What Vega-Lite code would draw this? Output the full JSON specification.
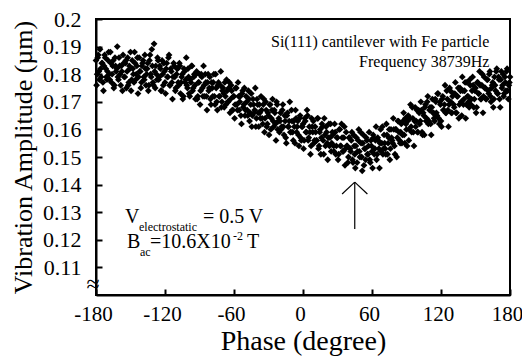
{
"$schema": "https://vega.github.io/schema/vega-lite/v6.json",
"width": 414, "height": 276,
"autosize": {"type": "none"},
"padding": {"left": 96, "top": 19, "right": 12, "bottom": 61},
"background": "white",
"config": {"font": "Liberation Serif, Times New Roman, serif", "view": {"stroke": "black", "strokeWidth": 2},
 "axis": {"labelFont": "Liberation Serif, Times New Roman, serif", "titleFont": "Liberation Serif, Times New Roman, serif", "labelOverlap": false, "labelFlush": false, "grid": false},
 "text": {"font": "Liberation Serif, Times New Roman, serif"}},
"layer": [
{
"data": {"values": [
{"phase":-180,"amp":0.185},{"phase":-179,"amp":0.180},{"phase":-178,"amp":0.187},{"phase":-177,"amp":0.178},{"phase":-176,"amp":0.182},{"phase":-175,"amp":0.184},{"phase":-174,"amp":0.177},{"phase":-173,"amp":0.183},{"phase":-172,"amp":0.186},{"phase":-171,"amp":0.179},
{"phase":-170,"amp":0.181},{"phase":-169,"amp":0.188},{"phase":-168,"amp":0.178},{"phase":-167,"amp":0.184},{"phase":-166,"amp":0.180},{"phase":-165,"amp":0.185},{"phase":-164,"amp":0.176},{"phase":-163,"amp":0.183},{"phase":-162,"amp":0.182},{"phase":-161,"amp":0.179},
{"phase":-160,"amp":0.186},{"phase":-159,"amp":0.180},{"phase":-158,"amp":0.183},{"phase":-157,"amp":0.174},{"phase":-156,"amp":0.184},{"phase":-155,"amp":0.179},{"phase":-154,"amp":0.185},{"phase":-153,"amp":0.181},{"phase":-152,"amp":0.176},{"phase":-151,"amp":0.183},
{"phase":-150,"amp":0.188},{"phase":-149,"amp":0.178},{"phase":-148,"amp":0.182},{"phase":-147,"amp":0.177},{"phase":-146,"amp":0.184},{"phase":-145,"amp":0.180},{"phase":-144,"amp":0.186},{"phase":-143,"amp":0.179},{"phase":-142,"amp":0.181},{"phase":-141,"amp":0.175},
{"phase":-140,"amp":0.183},{"phase":-139,"amp":0.185},{"phase":-138,"amp":0.178},{"phase":-137,"amp":0.182},{"phase":-136,"amp":0.180},{"phase":-135,"amp":0.184},{"phase":-134,"amp":0.176},{"phase":-133,"amp":0.187},{"phase":-132,"amp":0.179},{"phase":-131,"amp":0.183},
{"phase":-130,"amp":0.176},{"phase":-129,"amp":0.181},{"phase":-128,"amp":0.183},{"phase":-127,"amp":0.178},{"phase":-126,"amp":0.185},{"phase":-125,"amp":0.179},{"phase":-124,"amp":0.182},{"phase":-123,"amp":0.174},{"phase":-122,"amp":0.180},{"phase":-121,"amp":0.184},
{"phase":-120,"amp":0.177},{"phase":-119,"amp":0.182},{"phase":-118,"amp":0.179},{"phase":-117,"amp":0.186},{"phase":-116,"amp":0.176},{"phase":-115,"amp":0.182},{"phase":-114,"amp":0.177},{"phase":-113,"amp":0.179},{"phase":-112,"amp":0.183},{"phase":-111,"amp":0.174},
{"phase":-110,"amp":0.180},{"phase":-109,"amp":0.182},{"phase":-108,"amp":0.176},{"phase":-107,"amp":0.183},{"phase":-106,"amp":0.177},{"phase":-105,"amp":0.180},{"phase":-104,"amp":0.172},{"phase":-103,"amp":0.181},{"phase":-102,"amp":0.178},{"phase":-101,"amp":0.176},
{"phase":-100,"amp":0.182},{"phase":-99,"amp":0.173},{"phase":-98,"amp":0.178},{"phase":-97,"amp":0.183},{"phase":-96,"amp":0.174},{"phase":-95,"amp":0.179},{"phase":-94,"amp":0.176},{"phase":-93,"amp":0.180},{"phase":-92,"amp":0.171},{"phase":-91,"amp":0.177},
{"phase":-90,"amp":0.180},{"phase":-89,"amp":0.174},{"phase":-88,"amp":0.179},{"phase":-87,"amp":0.172},{"phase":-86,"amp":0.176},{"phase":-85,"amp":0.180},{"phase":-84,"amp":0.172},{"phase":-83,"amp":0.177},{"phase":-82,"amp":0.174},{"phase":-81,"amp":0.179},
{"phase":-80,"amp":0.169},{"phase":-79,"amp":0.175},{"phase":-78,"amp":0.177},{"phase":-77,"amp":0.172},{"phase":-76,"amp":0.180},{"phase":-75,"amp":0.170},{"phase":-74,"amp":0.176},{"phase":-73,"amp":0.172},{"phase":-72,"amp":0.176},{"phase":-71,"amp":0.168},
{"phase":-70,"amp":0.174},{"phase":-69,"amp":0.173},{"phase":-68,"amp":0.177},{"phase":-67,"amp":0.169},{"phase":-66,"amp":0.174},{"phase":-65,"amp":0.170},{"phase":-64,"amp":0.177},{"phase":-63,"amp":0.171},{"phase":-62,"amp":0.174},{"phase":-61,"amp":0.167},
{"phase":-60,"amp":0.172},{"phase":-59,"amp":0.169},{"phase":-58,"amp":0.175},{"phase":-57,"amp":0.167},{"phase":-56,"amp":0.172},{"phase":-55,"amp":0.170},{"phase":-54,"amp":0.165},{"phase":-53,"amp":0.173},{"phase":-52,"amp":0.168},{"phase":-51,"amp":0.175},
{"phase":-50,"amp":0.167},{"phase":-49,"amp":0.170},{"phase":-48,"amp":0.165},{"phase":-47,"amp":0.171},{"phase":-46,"amp":0.166},{"phase":-45,"amp":0.173},{"phase":-44,"amp":0.165},{"phase":-43,"amp":0.169},{"phase":-42,"amp":0.167},{"phase":-41,"amp":0.161},
{"phase":-40,"amp":0.171},{"phase":-39,"amp":0.166},{"phase":-38,"amp":0.169},{"phase":-37,"amp":0.164},{"phase":-36,"amp":0.167},{"phase":-35,"amp":0.162},{"phase":-34,"amp":0.171},{"phase":-33,"amp":0.164},{"phase":-32,"amp":0.167},{"phase":-31,"amp":0.162},
{"phase":-30,"amp":0.165},{"phase":-29,"amp":0.169},{"phase":-28,"amp":0.160},{"phase":-27,"amp":0.167},{"phase":-26,"amp":0.163},{"phase":-25,"amp":0.167},{"phase":-24,"amp":0.162},{"phase":-23,"amp":0.170},{"phase":-22,"amp":0.160},{"phase":-21,"amp":0.164},
{"phase":-20,"amp":0.163},{"phase":-19,"amp":0.160},{"phase":-18,"amp":0.167},{"phase":-17,"amp":0.161},{"phase":-16,"amp":0.165},{"phase":-15,"amp":0.157},{"phase":-14,"amp":0.165},{"phase":-13,"amp":0.161},{"phase":-12,"amp":0.163},{"phase":-11,"amp":0.159},
{"phase":-10,"amp":0.167},{"phase":-9,"amp":0.159},{"phase":-8,"amp":0.163},{"phase":-7,"amp":0.155},{"phase":-6,"amp":0.164},{"phase":-5,"amp":0.161},{"phase":-4,"amp":0.158},{"phase":-3,"amp":0.164},{"phase":-2,"amp":0.157},{"phase":-1,"amp":0.161},
{"phase":0,"amp":0.162},{"phase":1,"amp":0.156},{"phase":2,"amp":0.163},{"phase":3,"amp":0.159},{"phase":4,"amp":0.165},{"phase":5,"amp":0.157},{"phase":6,"amp":0.159},{"phase":7,"amp":0.154},{"phase":8,"amp":0.161},{"phase":9,"amp":0.163},
{"phase":10,"amp":0.156},{"phase":11,"amp":0.159},{"phase":12,"amp":0.156},{"phase":13,"amp":0.164},{"phase":14,"amp":0.154},{"phase":15,"amp":0.160},{"phase":16,"amp":0.157},{"phase":17,"amp":0.161},{"phase":18,"amp":0.151},{"phase":19,"amp":0.158},
{"phase":20,"amp":0.161},{"phase":21,"amp":0.155},{"phase":22,"amp":0.157},{"phase":23,"amp":0.154},{"phase":24,"amp":0.162},{"phase":25,"amp":0.155},{"phase":26,"amp":0.158},{"phase":27,"amp":0.152},{"phase":28,"amp":0.159},{"phase":29,"amp":0.154},
{"phase":30,"amp":0.157},{"phase":31,"amp":0.151},{"phase":32,"amp":0.160},{"phase":33,"amp":0.154},{"phase":34,"amp":0.157},{"phase":35,"amp":0.152},{"phase":36,"amp":0.161},{"phase":37,"amp":0.153},{"phase":38,"amp":0.154},{"phase":39,"amp":0.148},
{"phase":40,"amp":0.157},{"phase":41,"amp":0.153},{"phase":42,"amp":0.156},{"phase":43,"amp":0.149},{"phase":44,"amp":0.158},{"phase":45,"amp":0.151},{"phase":46,"amp":0.154},{"phase":47,"amp":0.148},{"phase":48,"amp":0.156},{"phase":49,"amp":0.152},
{"phase":50,"amp":0.159},{"phase":51,"amp":0.150},{"phase":52,"amp":0.155},{"phase":53,"amp":0.147},{"phase":54,"amp":0.153},{"phase":55,"amp":0.157},{"phase":56,"amp":0.151},{"phase":57,"amp":0.154},{"phase":58,"amp":0.149},{"phase":59,"amp":0.156},
{"phase":60,"amp":0.152},{"phase":61,"amp":0.158},{"phase":62,"amp":0.151},{"phase":63,"amp":0.156},{"phase":64,"amp":0.149},{"phase":65,"amp":0.157},{"phase":66,"amp":0.153},{"phase":67,"amp":0.155},{"phase":68,"amp":0.152},{"phase":69,"amp":0.161},
{"phase":70,"amp":0.153},{"phase":71,"amp":0.155},{"phase":72,"amp":0.151},{"phase":73,"amp":0.158},{"phase":74,"amp":0.155},{"phase":75,"amp":0.160},{"phase":76,"amp":0.153},{"phase":77,"amp":0.157},{"phase":78,"amp":0.155},{"phase":79,"amp":0.160},
{"phase":80,"amp":0.151},{"phase":81,"amp":0.160},{"phase":82,"amp":0.157},{"phase":83,"amp":0.163},{"phase":84,"amp":0.156},{"phase":85,"amp":0.159},{"phase":86,"amp":0.155},{"phase":87,"amp":0.163},{"phase":88,"amp":0.158},{"phase":89,"amp":0.164},
{"phase":90,"amp":0.160},{"phase":91,"amp":0.163},{"phase":92,"amp":0.156},{"phase":93,"amp":0.164},{"phase":94,"amp":0.161},{"phase":95,"amp":0.168},{"phase":96,"amp":0.159},{"phase":97,"amp":0.163},{"phase":98,"amp":0.161},{"phase":99,"amp":0.167},
{"phase":100,"amp":0.159},{"phase":101,"amp":0.166},{"phase":102,"amp":0.163},{"phase":103,"amp":0.167},{"phase":104,"amp":0.158},{"phase":105,"amp":0.165},{"phase":106,"amp":0.168},{"phase":107,"amp":0.163},{"phase":108,"amp":0.170},{"phase":109,"amp":0.162},
{"phase":110,"amp":0.167},{"phase":111,"amp":0.162},{"phase":112,"amp":0.168},{"phase":113,"amp":0.166},{"phase":114,"amp":0.164},{"phase":115,"amp":0.171},{"phase":116,"amp":0.166},{"phase":117,"amp":0.173},{"phase":118,"amp":0.164},{"phase":119,"amp":0.170},
{"phase":120,"amp":0.163},{"phase":121,"amp":0.171},{"phase":122,"amp":0.167},{"phase":123,"amp":0.169},{"phase":124,"amp":0.166},{"phase":125,"amp":0.174},{"phase":126,"amp":0.167},{"phase":127,"amp":0.169},{"phase":128,"amp":0.174},{"phase":129,"amp":0.166},
{"phase":130,"amp":0.172},{"phase":131,"amp":0.169},{"phase":132,"amp":0.173},{"phase":133,"amp":0.166},{"phase":134,"amp":0.172},{"phase":135,"amp":0.175},{"phase":136,"amp":0.169},{"phase":137,"amp":0.174},{"phase":138,"amp":0.165},{"phase":139,"amp":0.174},
{"phase":140,"amp":0.171},{"phase":141,"amp":0.177},{"phase":142,"amp":0.169},{"phase":143,"amp":0.172},{"phase":144,"amp":0.170},{"phase":145,"amp":0.178},{"phase":146,"amp":0.169},{"phase":147,"amp":0.174},{"phase":148,"amp":0.176},{"phase":149,"amp":0.171},
{"phase":150,"amp":0.175},{"phase":151,"amp":0.168},{"phase":152,"amp":0.177},{"phase":153,"amp":0.173},{"phase":154,"amp":0.176},{"phase":155,"amp":0.171},{"phase":156,"amp":0.180},{"phase":157,"amp":0.172},{"phase":158,"amp":0.175},{"phase":159,"amp":0.171},
{"phase":160,"amp":0.178},{"phase":161,"amp":0.174},{"phase":162,"amp":0.180},{"phase":163,"amp":0.172},{"phase":164,"amp":0.175},{"phase":165,"amp":0.177},{"phase":166,"amp":0.171},{"phase":167,"amp":0.176},{"phase":168,"amp":0.181},{"phase":169,"amp":0.173},
{"phase":170,"amp":0.179},{"phase":171,"amp":0.171},{"phase":172,"amp":0.178},{"phase":173,"amp":0.175},{"phase":174,"amp":0.180},{"phase":175,"amp":0.173},{"phase":176,"amp":0.177},{"phase":177,"amp":0.181},{"phase":178,"amp":0.174},{"phase":179,"amp":0.176},
{"phase":180,"amp":0.179},
{"phase":-179.5,"amp":0.176},{"phase":-178.5,"amp":0.186},{"phase":-177.5,"amp":0.181},{"phase":-176.5,"amp":0.189},{"phase":-175.5,"amp":0.179},{"phase":-174.5,"amp":0.184},{"phase":-173.5,"amp":0.174},{"phase":-172.5,"amp":0.187},{"phase":-171.5,"amp":0.182},{"phase":-170.5,"amp":0.178},
{"phase":-169.5,"amp":0.185},{"phase":-168.5,"amp":0.180},{"phase":-167.5,"amp":0.188},{"phase":-166.5,"amp":0.177},{"phase":-165.5,"amp":0.183},{"phase":-164.5,"amp":0.175},{"phase":-163.5,"amp":0.186},{"phase":-162.5,"amp":0.181},{"phase":-161.5,"amp":0.190},{"phase":-160.5,"amp":0.178},
{"phase":-159.5,"amp":0.183},{"phase":-158.5,"amp":0.176},{"phase":-157.5,"amp":0.181},{"phase":-156.5,"amp":0.187},{"phase":-155.5,"amp":0.179},{"phase":-154.5,"amp":0.184},{"phase":-153.5,"amp":0.175},{"phase":-152.5,"amp":0.186},{"phase":-151.5,"amp":0.177},{"phase":-150.5,"amp":0.182},
{"phase":-149.5,"amp":0.174},{"phase":-148.5,"amp":0.185},{"phase":-147.5,"amp":0.180},{"phase":-146.5,"amp":0.188},{"phase":-145.5,"amp":0.178},{"phase":-144.5,"amp":0.183},{"phase":-143.5,"amp":0.173},{"phase":-142.5,"amp":0.186},{"phase":-141.5,"amp":0.181},{"phase":-140.5,"amp":0.177},
{"phase":-139.5,"amp":0.184},{"phase":-138.5,"amp":0.179},{"phase":-137.5,"amp":0.187},{"phase":-136.5,"amp":0.176},{"phase":-135.5,"amp":0.182},{"phase":-134.5,"amp":0.174},{"phase":-133.5,"amp":0.185},{"phase":-132.5,"amp":0.180},{"phase":-131.5,"amp":0.189},{"phase":-130.5,"amp":0.177},
{"phase":-129.5,"amp":0.191},{"phase":-128.5,"amp":0.175},{"phase":-127.5,"amp":0.180},{"phase":-126.5,"amp":0.186},{"phase":-125.5,"amp":0.178},{"phase":-124.5,"amp":0.183},{"phase":-123.5,"amp":0.174},{"phase":-122.5,"amp":0.185},{"phase":-121.5,"amp":0.176},{"phase":-120.5,"amp":0.181},
{"phase":-119.5,"amp":0.173},{"phase":-118.5,"amp":0.184},{"phase":-117.5,"amp":0.179},{"phase":-116.5,"amp":0.187},{"phase":-115.5,"amp":0.176},{"phase":-114.5,"amp":0.181},{"phase":-113.5,"amp":0.171},{"phase":-112.5,"amp":0.184},{"phase":-111.5,"amp":0.179},{"phase":-110.5,"amp":0.175},
{"phase":-109.5,"amp":0.182},{"phase":-108.5,"amp":0.177},{"phase":-107.5,"amp":0.184},{"phase":-106.5,"amp":0.173},{"phase":-105.5,"amp":0.179},{"phase":-104.5,"amp":0.171},{"phase":-103.5,"amp":0.182},{"phase":-102.5,"amp":0.177},{"phase":-101.5,"amp":0.186},{"phase":-100.5,"amp":0.175},
{"phase":-99.5,"amp":0.179},{"phase":-98.5,"amp":0.172},{"phase":-97.5,"amp":0.177},{"phase":-96.5,"amp":0.183},{"phase":-95.5,"amp":0.175},{"phase":-94.5,"amp":0.180},{"phase":-93.5,"amp":0.171},{"phase":-92.5,"amp":0.181},{"phase":-91.5,"amp":0.172},{"phase":-90.5,"amp":0.177},
{"phase":-89.5,"amp":0.169},{"phase":-88.5,"amp":0.180},{"phase":-87.5,"amp":0.175},{"phase":-86.5,"amp":0.183},{"phase":-85.5,"amp":0.172},{"phase":-84.5,"amp":0.177},{"phase":-83.5,"amp":0.167},{"phase":-82.5,"amp":0.180},{"phase":-81.5,"amp":0.175},{"phase":-80.5,"amp":0.171},
{"phase":-79.5,"amp":0.177},{"phase":-78.5,"amp":0.172},{"phase":-77.5,"amp":0.180},{"phase":-76.5,"amp":0.169},{"phase":-75.5,"amp":0.175},{"phase":-74.5,"amp":0.167},{"phase":-73.5,"amp":0.177},{"phase":-72.5,"amp":0.172},{"phase":-71.5,"amp":0.181},{"phase":-70.5,"amp":0.170},
{"phase":-69.5,"amp":0.175},{"phase":-68.5,"amp":0.168},{"phase":-67.5,"amp":0.172},{"phase":-66.5,"amp":0.178},{"phase":-65.5,"amp":0.170},{"phase":-64.5,"amp":0.175},{"phase":-63.5,"amp":0.166},{"phase":-62.5,"amp":0.176},{"phase":-61.5,"amp":0.167},{"phase":-60.5,"amp":0.172},
{"phase":-59.5,"amp":0.164},{"phase":-58.5,"amp":0.175},{"phase":-57.5,"amp":0.169},{"phase":-56.5,"amp":0.177},{"phase":-55.5,"amp":0.167},{"phase":-54.5,"amp":0.172},{"phase":-53.5,"amp":0.162},{"phase":-52.5,"amp":0.174},{"phase":-51.5,"amp":0.169},{"phase":-50.5,"amp":0.165},
{"phase":-49.5,"amp":0.172},{"phase":-48.5,"amp":0.167},{"phase":-47.5,"amp":0.174},{"phase":-46.5,"amp":0.163},{"phase":-45.5,"amp":0.169},{"phase":-44.5,"amp":0.161},{"phase":-43.5,"amp":0.171},{"phase":-42.5,"amp":0.166},{"phase":-41.5,"amp":0.175},{"phase":-40.5,"amp":0.164},
{"phase":-39.5,"amp":0.169},{"phase":-38.5,"amp":0.161},{"phase":-37.5,"amp":0.166},{"phase":-36.5,"amp":0.172},{"phase":-35.5,"amp":0.164},{"phase":-34.5,"amp":0.169},{"phase":-33.5,"amp":0.159},{"phase":-32.5,"amp":0.170},{"phase":-31.5,"amp":0.161},{"phase":-30.5,"amp":0.166},
{"phase":-29.5,"amp":0.158},{"phase":-28.5,"amp":0.169},{"phase":-27.5,"amp":0.164},{"phase":-26.5,"amp":0.171},{"phase":-25.5,"amp":0.161},{"phase":-24.5,"amp":0.166},{"phase":-23.5,"amp":0.156},{"phase":-22.5,"amp":0.169},{"phase":-21.5,"amp":0.163},{"phase":-20.5,"amp":0.159},
{"phase":-19.5,"amp":0.166},{"phase":-18.5,"amp":0.161},{"phase":-17.5,"amp":0.169},{"phase":-16.5,"amp":0.158},{"phase":-15.5,"amp":0.163},{"phase":-14.5,"amp":0.155},{"phase":-13.5,"amp":0.166},{"phase":-12.5,"amp":0.161},{"phase":-11.5,"amp":0.170},{"phase":-10.5,"amp":0.159},
{"phase":-9.5,"amp":0.163},{"phase":-8.5,"amp":0.156},{"phase":-7.5,"amp":0.161},{"phase":-6.5,"amp":0.167},{"phase":-5.5,"amp":0.159},{"phase":-4.5,"amp":0.163},{"phase":-3.5,"amp":0.154},{"phase":-2.5,"amp":0.165},{"phase":-1.5,"amp":0.156},{"phase":-0.5,"amp":0.161},
{"phase":0.5,"amp":0.153},{"phase":1.5,"amp":0.164},{"phase":2.5,"amp":0.159},{"phase":3.5,"amp":0.167},{"phase":4.5,"amp":0.156},{"phase":5.5,"amp":0.161},{"phase":6.5,"amp":0.151},{"phase":7.5,"amp":0.164},{"phase":8.5,"amp":0.159},{"phase":9.5,"amp":0.155},
{"phase":10.5,"amp":0.161},{"phase":11.5,"amp":0.156},{"phase":12.5,"amp":0.164},{"phase":13.5,"amp":0.153},{"phase":14.5,"amp":0.159},{"phase":15.5,"amp":0.151},{"phase":16.5,"amp":0.162},{"phase":17.5,"amp":0.156},{"phase":18.5,"amp":0.164},{"phase":19.5,"amp":0.154},
{"phase":20.5,"amp":0.159},{"phase":21.5,"amp":0.149},{"phase":22.5,"amp":0.162},{"phase":23.5,"amp":0.157},{"phase":24.5,"amp":0.152},{"phase":25.5,"amp":0.159},{"phase":26.5,"amp":0.154},{"phase":27.5,"amp":0.162},{"phase":28.5,"amp":0.151},{"phase":29.5,"amp":0.157},
{"phase":30.5,"amp":0.149},{"phase":31.5,"amp":0.160},{"phase":32.5,"amp":0.154},{"phase":33.5,"amp":0.162},{"phase":34.5,"amp":0.152},{"phase":35.5,"amp":0.157},{"phase":36.5,"amp":0.147},{"phase":37.5,"amp":0.159},{"phase":38.5,"amp":0.154},{"phase":39.5,"amp":0.150},
{"phase":40.5,"amp":0.157},{"phase":41.5,"amp":0.152},{"phase":42.5,"amp":0.159},{"phase":43.5,"amp":0.148},{"phase":44.5,"amp":0.154},{"phase":45.5,"amp":0.146},{"phase":46.5,"amp":0.157},{"phase":47.5,"amp":0.152},{"phase":48.5,"amp":0.160},{"phase":49.5,"amp":0.150},
{"phase":50.5,"amp":0.155},{"phase":51.5,"amp":0.145},{"phase":52.5,"amp":0.158},{"phase":53.5,"amp":0.153},{"phase":54.5,"amp":0.149},{"phase":55.5,"amp":0.156},{"phase":56.5,"amp":0.151},{"phase":57.5,"amp":0.159},{"phase":58.5,"amp":0.148},{"phase":59.5,"amp":0.154},
{"phase":60.5,"amp":0.146},{"phase":61.5,"amp":0.157},{"phase":62.5,"amp":0.153},{"phase":63.5,"amp":0.161},{"phase":64.5,"amp":0.151},{"phase":65.5,"amp":0.156},{"phase":66.5,"amp":0.146},{"phase":67.5,"amp":0.160},{"phase":68.5,"amp":0.155},{"phase":69.5,"amp":0.151},
{"phase":70.5,"amp":0.158},{"phase":71.5,"amp":0.153},{"phase":72.5,"amp":0.162},{"phase":73.5,"amp":0.151},{"phase":74.5,"amp":0.157},{"phase":75.5,"amp":0.149},{"phase":76.5,"amp":0.160},{"phase":77.5,"amp":0.156},{"phase":78.5,"amp":0.164},{"phase":79.5,"amp":0.154},
{"phase":80.5,"amp":0.160},{"phase":81.5,"amp":0.150},{"phase":82.5,"amp":0.163},{"phase":83.5,"amp":0.159},{"phase":84.5,"amp":0.155},{"phase":85.5,"amp":0.162},{"phase":86.5,"amp":0.158},{"phase":87.5,"amp":0.166},{"phase":88.5,"amp":0.155},{"phase":89.5,"amp":0.162},
{"phase":90.5,"amp":0.154},{"phase":91.5,"amp":0.165},{"phase":92.5,"amp":0.160},{"phase":93.5,"amp":0.169},{"phase":94.5,"amp":0.159},{"phase":95.5,"amp":0.164},{"phase":96.5,"amp":0.154},{"phase":97.5,"amp":0.168},{"phase":98.5,"amp":0.163},{"phase":99.5,"amp":0.159},
{"phase":100.5,"amp":0.167},{"phase":101.5,"amp":0.162},{"phase":102.5,"amp":0.170},{"phase":103.5,"amp":0.159},{"phase":104.5,"amp":0.166},{"phase":105.5,"amp":0.158},{"phase":106.5,"amp":0.169},{"phase":107.5,"amp":0.164},{"phase":108.5,"amp":0.172},{"phase":109.5,"amp":0.163},
{"phase":110.5,"amp":0.168},{"phase":111.5,"amp":0.158},{"phase":112.5,"amp":0.171},{"phase":113.5,"amp":0.166},{"phase":114.5,"amp":0.163},{"phase":115.5,"amp":0.170},{"phase":116.5,"amp":0.165},{"phase":117.5,"amp":0.173},{"phase":118.5,"amp":0.162},{"phase":119.5,"amp":0.169},
{"phase":120.5,"amp":0.161},{"phase":121.5,"amp":0.172},{"phase":122.5,"amp":0.167},{"phase":123.5,"amp":0.176},{"phase":124.5,"amp":0.166},{"phase":125.5,"amp":0.171},{"phase":126.5,"amp":0.161},{"phase":127.5,"amp":0.175},{"phase":128.5,"amp":0.170},{"phase":129.5,"amp":0.166},
{"phase":130.5,"amp":0.173},{"phase":131.5,"amp":0.168},{"phase":132.5,"amp":0.177},{"phase":133.5,"amp":0.166},{"phase":134.5,"amp":0.172},{"phase":135.5,"amp":0.164},{"phase":136.5,"amp":0.175},{"phase":137.5,"amp":0.170},{"phase":138.5,"amp":0.179},{"phase":139.5,"amp":0.169},
{"phase":140.5,"amp":0.174},{"phase":141.5,"amp":0.164},{"phase":142.5,"amp":0.177},{"phase":143.5,"amp":0.172},{"phase":144.5,"amp":0.168},{"phase":145.5,"amp":0.176},{"phase":146.5,"amp":0.171},{"phase":147.5,"amp":0.179},{"phase":148.5,"amp":0.168},{"phase":149.5,"amp":0.174},
{"phase":150.5,"amp":0.166},{"phase":151.5,"amp":0.177},{"phase":152.5,"amp":0.173},{"phase":153.5,"amp":0.181},{"phase":154.5,"amp":0.171},{"phase":155.5,"amp":0.176},{"phase":156.5,"amp":0.166},{"phase":157.5,"amp":0.179},{"phase":158.5,"amp":0.175},{"phase":159.5,"amp":0.171},
{"phase":160.5,"amp":0.178},{"phase":161.5,"amp":0.173},{"phase":162.5,"amp":0.181},{"phase":163.5,"amp":0.170},{"phase":164.5,"amp":0.176},{"phase":165.5,"amp":0.168},{"phase":166.5,"amp":0.179},{"phase":167.5,"amp":0.174},{"phase":168.5,"amp":0.182},{"phase":169.5,"amp":0.173},
{"phase":170.5,"amp":0.178},{"phase":171.5,"amp":0.168},{"phase":172.5,"amp":0.181},{"phase":173.5,"amp":0.176},{"phase":174.5,"amp":0.172},{"phase":175.5,"amp":0.179},{"phase":176.5,"amp":0.174},{"phase":177.5,"amp":0.182},{"phase":178.5,"amp":0.171},{"phase":179.5,"amp":0.177}
]},
"mark": {"type": "point", "shape": "diamond", "filled": true, "color": "black", "size": 46, "opacity": 1},
"encoding": {
"x": {"field": "phase", "type": "quantitative", "scale": {"domain": [-180, 180], "nice": false},
 "axis": {"values": [-180, -120, -60, 0, 60, 120, 180], "tickCount": 20, "labelExpr": "replace(datum.label, '−', '-')", "title": "Phase (degree)", "titleFont": "Liberation Serif, Times New Roman, serif", "titleFontSize": 28, "titleFontWeight": "normal", "titleColor": "black", "titlePadding": 3, "labelFont": "Liberation Serif, Times New Roman, serif", "labelFontSize": 21, "labelColor": "black", "labelFlush": false, "labelOverlap": false, "labelPadding": 14, "labelOffset": -3, "grid": false, "domainColor": "black", "domainWidth": 2, "tickColor": "black", "tickWidth": 2, "tickSize": -6}},
"y": {"field": "amp", "type": "quantitative", "scale": {"domain": [0.1, 0.2], "nice": false, "zero": false},
 "axis": {"values": [0.11, 0.12, 0.13, 0.14, 0.15, 0.16, 0.17, 0.18, 0.19, 0.2], "tickCount": 20, "format": ".2~f", "title": "Vibration Amplitude (µm)", "titleFont": "Liberation Serif, Times New Roman, serif", "titleFontSize": 26, "titleFontWeight": "normal", "titleColor": "black", "titlePadding": 6, "labelFont": "Liberation Serif, Times New Roman, serif", "labelFontSize": 22, "labelColor": "black", "labelFlush": false, "labelOverlap": false, "labelPadding": 21, "grid": false, "domainColor": "black", "domainWidth": 2, "tickColor": "black", "tickWidth": 2, "tickSize": -6}}
}
},
{
"data": {"values": [
{"phase": 45, "amp": 0.1409, "phase2": 45, "amp2": 0.1239},
{"phase": 45, "amp": 0.1409, "phase2": 34, "amp2": 0.1366},
{"phase": 45, "amp": 0.1409, "phase2": 56, "amp2": 0.1366}
]},
"mark": {"type": "rule", "color": "black", "strokeWidth": 1.2},
"encoding": {
"x": {"field": "phase", "type": "quantitative"},
"y": {"field": "amp", "type": "quantitative"},
"x2": {"field": "phase2"},
"y2": {"field": "amp2"}
}
},
{
"data": {"values": [
{"phase": 162, "amp": 0.1917, "label": "Si(111) cantilever with Fe particle"},
{"phase": 162, "amp": 0.1844, "label": "Frequency 38739Hz"}
]},
"mark": {"type": "text", "font": "Liberation Serif, Times New Roman, serif", "align": "right", "baseline": "middle", "fontSize": 16, "color": "black"},
"encoding": {
"x": {"field": "phase", "type": "quantitative"},
"y": {"field": "amp", "type": "quantitative"},
"text": {"field": "label"}
}
},
{
"data": {"values": [
{"phase": -154.8, "amp": 0.1281, "label": "V"},
{"phase": -87, "amp": 0.1281, "label": "= 0.5 V"},
{"phase": -153, "amp": 0.1193, "label": "B"},
{"phase": -133, "amp": 0.1193, "label": "=10.6X10"},
{"phase": -48.7, "amp": 0.1193, "label": "T"}
]},
"mark": {"type": "text", "font": "Liberation Serif, Times New Roman, serif", "align": "left", "baseline": "middle", "fontSize": 20, "color": "black"},
"encoding": {
"x": {"field": "phase", "type": "quantitative"},
"y": {"field": "amp", "type": "quantitative"},
"text": {"field": "label"}
}
},
{
"data": {"values": [
{"phase": -142.6, "amp": 0.1247, "label": "electrostatic"},
{"phase": -141.7, "amp": 0.1157, "label": "ac"},
{"phase": -60.9, "amp": 0.1215, "label": "-2"}
]},
"mark": {"type": "text", "font": "Liberation Serif, Times New Roman, serif", "align": "left", "baseline": "middle", "fontSize": 12, "color": "black"},
"encoding": {
"x": {"field": "phase", "type": "quantitative"},
"y": {"field": "amp", "type": "quantitative"},
"text": {"field": "label"}
}
},
{
"data": {"values": [
{"phase": -180, "amp": 0.1035, "label": "≈"}
]},
"mark": {"type": "text", "font": "Liberation Serif, Times New Roman, serif", "align": "center", "baseline": "middle", "fontSize": 24, "color": "black", "dx": -3},
"encoding": {
"x": {"field": "phase", "type": "quantitative"},
"y": {"field": "amp", "type": "quantitative"},
"text": {"field": "label"}
}
}
]
}
